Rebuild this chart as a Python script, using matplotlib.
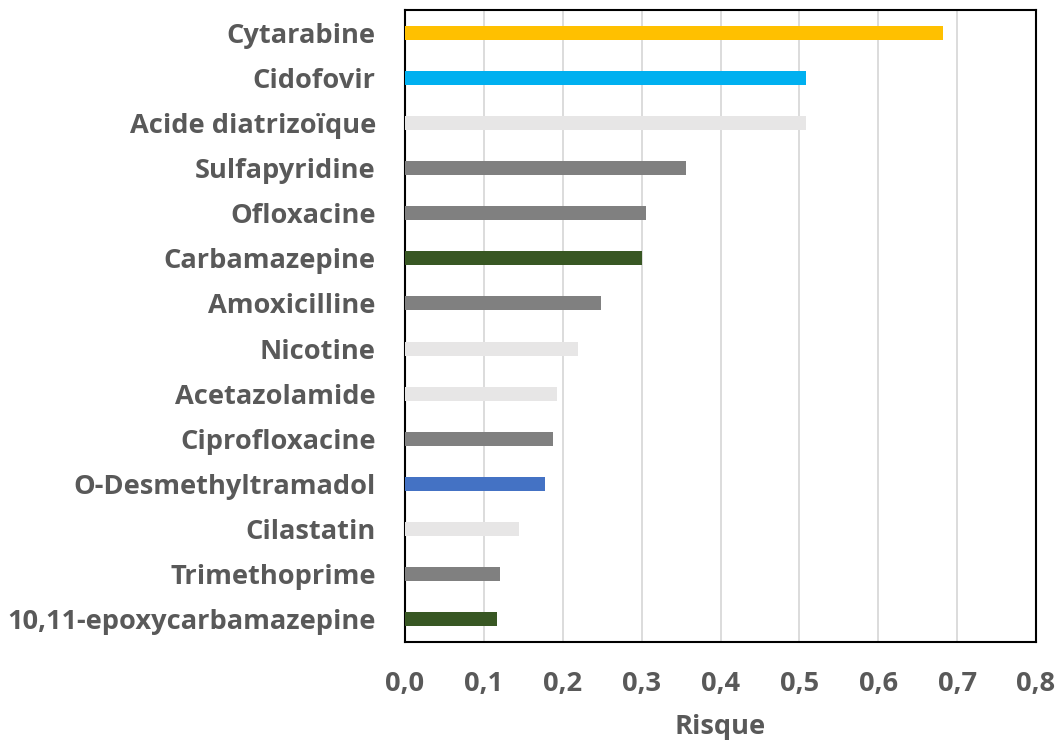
import numpy as np
import matplotlib
matplotlib.use('Agg')
import matplotlib.pyplot as plt
from matplotlib.ticker import FuncFormatter

# data, top to bottom as in the chart
drugs = ['Cytarabine', 'Cidofovir', 'Acide diatrizoïque', 'Sulfapyridine', 'Ofloxacine',
         'Carbamazepine', 'Amoxicilline', 'Nicotine', 'Acetazolamide', 'Ciprofloxacine',
         'O-Desmethyltramadol', 'Cilastatin', 'Trimethoprime', '10,11-epoxycarbamazepine']
risk = [0.682, 0.509, 0.509, 0.356, 0.305, 0.301, 0.249, 0.219, 0.193, 0.188,
        0.178, 0.145, 0.120, 0.117]
colors = ['#FFC000', '#00B0F0', '#E7E6E6', '#808080', '#808080', '#385723', '#808080',
          '#E7E6E6', '#E7E6E6', '#808080', '#4472C4', '#E7E6E6', '#808080', '#385723']

plt.rcParams['font.family'] = ['Open Sans', 'DejaVu Sans']
txt = '#595959'

fig = plt.figure(figsize=(10.58, 7.42), dpi=100)
ax = fig.add_axes([405 / 1058, 1 - 642 / 742, 631 / 1058, 632 / 742])

y = np.arange(len(drugs))[::-1]
ax.barh(y, risk, height=0.31, color=colors, zorder=3)

ax.set_xlim(0, 0.8)
ax.set_ylim(-0.5, len(drugs) - 0.5)
ax.set_xticks(np.arange(0, 0.81, 0.1))
ax.xaxis.set_major_formatter(FuncFormatter(lambda v, p: f'{v:.1f}'.replace('.', ',')))
ax.set_yticks(y)
ax.set_yticklabels(drugs)
ax.grid(axis='x', color='#D9D9D9', linewidth=1.3, zorder=0)
ax.tick_params(length=0, labelsize=19.6, labelcolor=txt)
ax.tick_params(axis='x', pad=21)
ax.tick_params(axis='y', pad=21)
for lab in ax.get_xticklabels() + ax.get_yticklabels():
    lab.set_fontweight('bold')
for s in ax.spines.values():
    s.set_color('black')
    s.set_linewidth(1.5)

ax.set_xlabel('Risque', fontsize=19.6, fontweight='bold', color=txt, labelpad=12)

fig.savefig('out.png', dpi=100)
